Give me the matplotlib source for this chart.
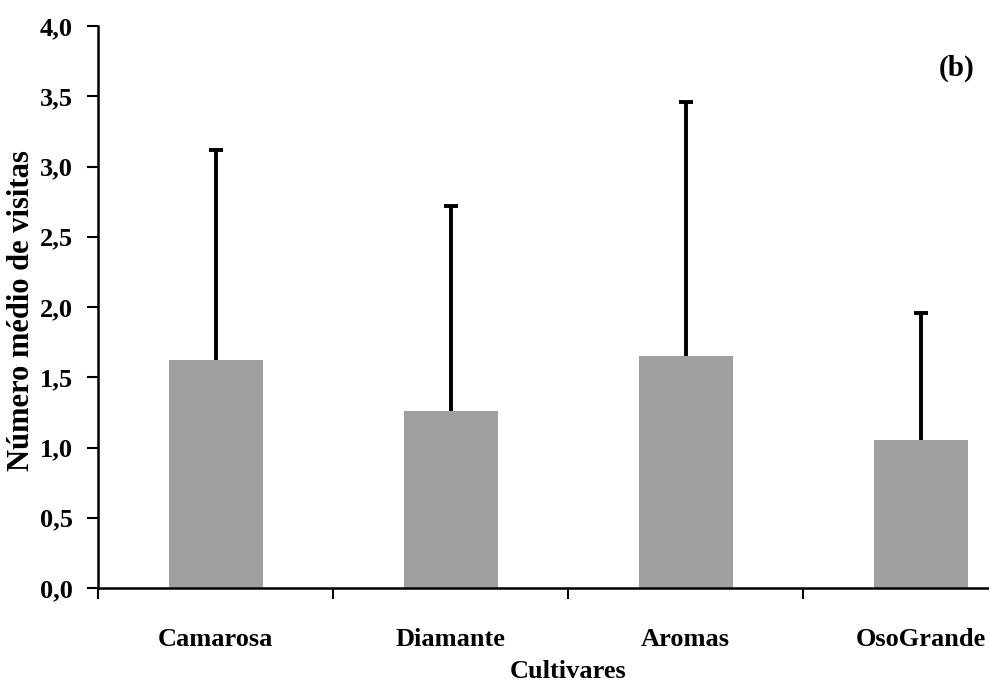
import matplotlib.pyplot as plt

# dados
cultivares = ['Camarosa', 'Diamante', 'Aromas', 'OsoGrande']
media = [1.62, 1.26, 1.65, 1.05]
desvio = [1.50, 1.46, 1.81, 0.91]
yticks = [0.0, 0.5, 1.0, 1.5, 2.0, 2.5, 3.0, 3.5, 4.0]

plt.rcParams['font.family'] = ['Liberation Serif', 'DejaVu Serif']
plt.rcParams['font.weight'] = 'bold'

fig = plt.figure(figsize=(9.89, 6.81), dpi=100)
ax = fig.add_axes([98 / 989, 93 / 681, 940 / 989, 562 / 681])

x = range(len(cultivares))
ax.bar(x, media, width=0.4, color='#a0a0a0', zorder=2)
_, caps, _ = ax.errorbar(x, media, yerr=[[0] * len(media), desvio], fmt='none',
                         ecolor='black', elinewidth=2.8, capsize=5, capthick=2.8, zorder=3)
# so a barra de cima
caps[0].set_visible(False)

ax.set_xlim(-0.5, 3.5)
ax.set_ylim(0, 4.0)
ax.set_yticks(yticks)
ax.set_yticklabels([f'{v:.1f}'.replace('.', ',') for v in yticks], fontsize=19, fontweight='bold')

ax.set_xticks(list(x))
ax.set_xticklabels(cultivares, fontsize=19, fontweight='bold')
ax.set_xticks([-0.5, 0.5, 1.5, 2.5], minor=True)
ax.tick_params(axis='x', which='major', length=0, pad=29)
ax.tick_params(axis='x', which='minor', length=8, width=1.5, direction='out')
ax.tick_params(axis='y', length=8, width=1.5, direction='out', pad=10)

for s in ['top', 'right']:
    ax.spines[s].set_visible(False)
ax.spines['left'].set_linewidth(1.8)
ax.spines['bottom'].set_linewidth(1.8)

ax.set_ylabel('Número médio de visitas', fontsize=22, fontweight='bold', va='center')
ax.yaxis.set_label_coords(-0.081, 0.493)
ax.set_xlabel('Cultivares', fontsize=19, fontweight='bold', va='center')
ax.xaxis.set_label_coords(0.5, -0.148)

fig.text(957 / 989, 1 - 68 / 681, '(b)', fontsize=21, fontweight='bold',
         ha='center', va='center')

fig.savefig('out.png', dpi=100)
